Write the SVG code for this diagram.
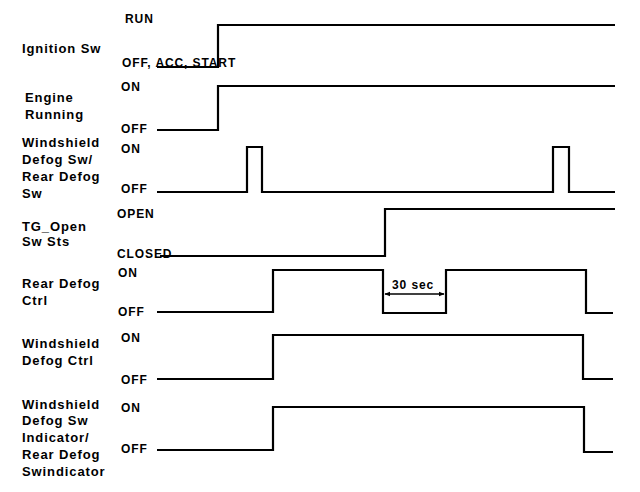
<svg xmlns="http://www.w3.org/2000/svg" width="640" height="492" viewBox="0 0 640 492">
<defs>
<style>
.lbl{font-family:"Liberation Sans",Arial,sans-serif;font-weight:bold;font-size:13px;letter-spacing:0.9px;fill:#000}
.st{font-family:"Liberation Sans",Arial,sans-serif;font-weight:bold;font-size:12px;letter-spacing:0.9px;fill:#000}
.sig{fill:none;stroke:#000;stroke-width:2.2;stroke-linejoin:miter}
.dim{fill:none;stroke:#000;stroke-width:1.6}
</style>
<marker id="ah" viewBox="0 0 10 10" refX="9" refY="5" markerWidth="6" markerHeight="6" orient="auto-start-reverse" markerUnits="userSpaceOnUse"><path d="M0,1 L10,5 L0,9 Z" fill="#000"/></marker>
</defs>
<rect width="640" height="492" fill="#fff"/>
<g id="ignition">
<text class="lbl" x="22" y="53">Ignition Sw</text>
<text class="st" x="125" y="23">RUN</text>
<text class="st" x="122" y="67">OFF, ACC, START</text>
</g>
<g id="engine">
<text class="lbl" x="25" y="102">Engine</text>
<text class="lbl" x="25" y="119">Running</text>
<text class="st" x="121" y="91">ON</text>
<text class="st" x="121" y="133">OFF</text>
</g>
<g id="defogsw">
<text class="lbl" x="22" y="147">Windshield</text>
<text class="lbl" x="22" y="164">Defog Sw/</text>
<text class="lbl" x="22" y="181">Rear Defog</text>
<text class="lbl" x="22" y="198">Sw</text>
<text class="st" x="121" y="153">ON</text>
<text class="st" x="121" y="193">OFF</text>
</g>
<g id="tgopen">
<text class="lbl" x="22" y="231">TG_Open</text>
<text class="lbl" x="22" y="246">Sw Sts</text>
<text class="st" x="117" y="218">OPEN</text>
<text class="st" x="117" y="258">CLOSED</text>
</g>
<g id="reardefog">
<text class="lbl" x="22" y="288">Rear Defog</text>
<text class="lbl" x="22" y="305">Ctrl</text>
<text class="st" x="118" y="277">ON</text>
<text class="st" x="118" y="316">OFF</text>
<text class="st" x="392" y="289">30 sec</text>
</g>
<g id="wsdefog">
<text class="lbl" x="22" y="348">Windshield</text>
<text class="lbl" x="22" y="365">Defog Ctrl</text>
<text class="st" x="121" y="342">ON</text>
<text class="st" x="121" y="384">OFF</text>
</g>
<g id="indicator">
<text class="lbl" x="22" y="409">Windshield</text>
<text class="lbl" x="22" y="425">Defog Sw</text>
<text class="lbl" x="22" y="442">Indicator/</text>
<text class="lbl" x="22" y="459">Rear Defog</text>
<text class="lbl" x="22" y="476">Swindicator</text>
<text class="st" x="121" y="412">ON</text>
<text class="st" x="121" y="453">OFF</text>
</g>
<g id="connectors">
<path class="sig" d="M157,67 H218 V25 H615"/>
<path class="sig" d="M157,130 H218 V86 H615"/>
<path class="sig" d="M157,192 H247 V147 H262 V192 H553 V147 H569 V192 H615"/>
<path class="sig" d="M160,256 H385 V209 H615"/>
<path class="sig" d="M157,312 H273 V270 H383 V313 H446 V270 H586 V313 H613"/>
<path class="sig" d="M157,379 H273 V335 H583 V379 H613"/>
<path class="sig" d="M157,450 H273 V407 H584 V452 H613"/>
<path class="dim" d="M385,294 H444" marker-start="url(#ah)" marker-end="url(#ah)"/>
</g>
</svg>
